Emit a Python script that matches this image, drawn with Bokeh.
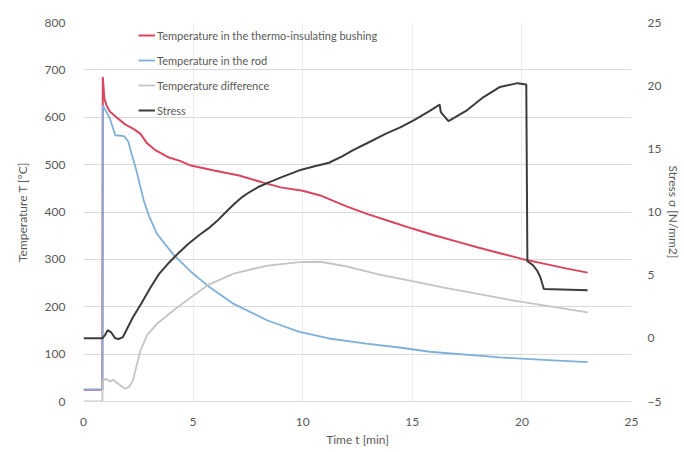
from bokeh.plotting import figure
from bokeh.models import Range1d, LinearAxis, SingleIntervalTicker, Legend, LegendItem, Title
from bokeh.embed import file_html
from bokeh.resources import INLINE

# ---- data ----
t_bushing = [0, 0.86, 0.88, 0.95, 1.05, 1.2, 1.5, 1.9, 2.3, 2.6, 2.9, 3.3, 3.9, 4.4, 4.9, 5.9,
             7.1, 8.2, 9.0, 10.0, 10.8, 12.0, 13.0, 14.0, 15.0, 16.0, 17.0, 18.0, 19.0,
             20.0, 21.0, 22.0, 23.0]
T_bushing = [25, 25, 685, 640, 625, 612, 600, 585, 575, 565, 545, 530, 515, 508, 498, 488,
             477, 462, 452, 445, 435, 412, 395, 380, 365, 351, 338, 325, 313,
             301, 291, 281, 272]

t_rod = [0, 0.86, 0.88, 1.0, 1.2, 1.45, 1.85, 2.05, 2.15, 2.4, 2.75, 3.0, 3.35, 4.1, 4.9,
         5.65, 6.85, 8.4, 9.85, 11.2, 12.9, 14.4, 15.8, 19.0, 21.0, 23.0]
T_rod = [25, 25, 625, 615, 598, 562, 560, 548, 530, 490, 424, 390, 354, 310, 274,
         245, 206, 171, 147, 133, 122, 114, 105, 93, 88, 83]

t_diff = [0, 0.86, 0.88, 1.05, 1.2, 1.35, 1.5, 1.9, 2.1, 2.25, 2.6, 2.9, 3.35, 4.1, 4.9,
          5.65, 6.85, 8.4, 9.85, 10.8, 12.0, 13.5, 15.0, 16.5, 18.0, 19.5, 21.0, 23.0]
T_diff = [0, 0, 44, 48, 42, 46, 40, 27, 32, 44, 108, 140, 164, 192, 220,
          245, 270, 287, 294, 295, 285, 268, 254, 240, 227, 214, 203, 188]

t_stress = [0, 0.86, 1.0, 1.1, 1.25, 1.45, 1.6, 1.8, 2.25, 2.65, 3.05, 3.45, 3.85, 4.3, 4.8,
            5.3, 5.7, 6.1, 6.5, 6.85, 7.25, 7.6, 8.0, 8.4, 9.1, 9.85, 10.5, 11.2, 11.8, 12.3,
            13.0, 13.8, 14.45, 15.1, 15.8, 16.25, 16.3, 16.65, 17.45, 18.25,
            19.0, 19.8, 20.2, 20.25, 20.5, 20.7, 20.85, 21.0, 23.0]
stress = [0, 0, 0.3, 0.65, 0.5, 0.0, -0.05, 0.1, 1.65, 2.8, 4.0, 5.1, 5.9, 6.7, 7.5,
          8.2, 8.7, 9.3, 10.0, 10.6, 11.2, 11.6, 12.0, 12.3, 12.8, 13.3, 13.6, 13.9, 14.4, 14.9,
          15.5, 16.2, 16.7, 17.3, 18.0, 18.5, 17.9, 17.2, 18.0, 19.1,
          19.9, 20.2, 20.1, 6.1, 5.8, 5.35, 4.8, 3.9, 3.8]

x_ticks_step = 5
y_left_step = 100
y_right_step = 5

names = ["Temperature in the thermo-insulating bushing", "Temperature in the rod",
         "Temperature difference", "Stress"]
colors = ["#d9445e", "#7fb0da", "#c4c4c4", "#3c3c3c"]

FONT = "Lato"
TXT = "#595959"
GRID = "#d9d9d9"

p = figure(width=684, height=452, output_backend="svg", toolbar_location=None,
           x_range=Range1d(0, 25), y_range=Range1d(0, 800),
           min_border_left=83, min_border_right=52, min_border_top=22, min_border_bottom=51)
p.extra_y_ranges = {"stress": Range1d(-5, 25)}
p.outline_line_color = None
p.background_fill_color = "white"
p.border_fill_color = "white"

r1 = p.line(t_bushing, T_bushing, color=colors[0], line_width=2)
r2 = p.line(t_rod, T_rod, color=colors[1], line_width=1.8)
r3 = p.line(t_diff, T_diff, color=colors[2], line_width=1.8)
r4 = p.line(t_stress, stress, color=colors[3], line_width=2, y_range_name="stress")

# axes
p.xaxis.ticker = SingleIntervalTicker(interval=x_ticks_step)
p.yaxis.ticker = SingleIntervalTicker(interval=y_left_step)
p.xgrid.ticker = SingleIntervalTicker(interval=x_ticks_step)
p.ygrid.ticker = SingleIntervalTicker(interval=y_left_step)
p.xgrid.grid_line_color = "#ececec"
p.ygrid.grid_line_color = GRID

ax_r = LinearAxis(y_range_name="stress", ticker=SingleIntervalTicker(interval=y_right_step),
                  axis_label="Stress σ [N/mm2]")
p.add_layout(ax_r, "right")

p.yaxis[0].axis_label = "Temperature T [°C]"

for ax in [p.xaxis[0], p.yaxis[0], ax_r]:
    ax.major_tick_line_color = None
    ax.minor_tick_line_color = None
    ax.major_tick_out = 0
    ax.major_label_text_font = FONT
    ax.major_label_text_font_size = "12px"
    ax.major_label_text_color = TXT
    ax.axis_label_text_font = FONT
    ax.axis_label_text_font_size = "12px"
    ax.axis_label_text_font_style = "normal"
    ax.axis_label_text_color = TXT

p.yaxis[0].axis_line_color = None
ax_r.axis_line_color = None
p.xaxis[0].axis_line_color = GRID
p.xaxis[0].major_label_standoff = 12
p.yaxis[0].major_label_standoff = 14
p.yaxis[0].axis_label_standoff = 12
ax_r.major_label_standoff = 12
ax_r.axis_label_standoff = 2

xtitle = Title(text="Time t [min]", align="center", offset=-17, standoff=2,
               text_font=FONT, text_font_size="12px", text_font_style="normal",
               text_color=TXT)
p.add_layout(xtitle, "below")

legend = Legend(items=[LegendItem(label=n, renderers=[r]) for n, r in zip(names, [r1, r2, r3, r4])],
                location=(55, 281))
legend.background_fill_alpha = 0
legend.border_line_color = None
legend.label_text_font = FONT
legend.label_text_font_size = "11px"
legend.label_text_color = TXT
legend.glyph_width = 17
legend.glyph_height = 20
legend.label_height = 20
legend.label_standoff = 2
legend.spacing = 5
legend.padding = 0
legend.margin = 0
p.add_layout(legend, "center")

open("out.html", "w").write(file_html(p, INLINE))
